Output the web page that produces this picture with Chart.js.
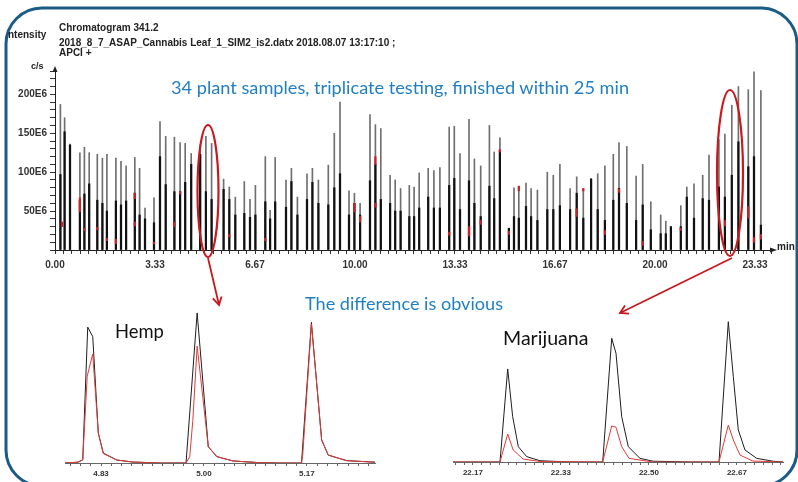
<!DOCTYPE html>
<html>
<head>
<meta charset="utf-8">
<script src="https://cdn.jsdelivr.net/npm/chart.js@4.4.1/dist/chart.umd.min.js"></script>
<style>
  html, body { margin: 0; padding: 0; background: #fff; }
  #page { position: relative; width: 798px; height: 482px; overflow: hidden; font-family: "Liberation Sans", Arial, sans-serif; }
  canvas { position: absolute; }
  .lbl { position: absolute; white-space: nowrap; line-height: 1; z-index: 2; }
  .hdr { font-weight: bold; font-size: 10px; color: #222; }
  .blue { color: #1f7fc4; font-family: Lato, "Noto Sans", sans-serif; }
  .big { font-family: Lato, "Noto Sans", sans-serif; color: #111; }
  svg { position: absolute; left: 0; top: 0; z-index: 1; }
</style>
</head>
<body>
<div id="page">
  <canvas id="overview" style="left:0;top:60px" width="798" height="220"></canvas>
  <canvas id="hemp" style="left:0;top:295px" width="400" height="187"></canvas>
  <canvas id="marijuana" style="left:400px;top:295px" width="398" height="187"></canvas>

  <div class="lbl hdr" style="left:8px;top:30px">ntensity</div>
  <div class="lbl hdr" style="left:59px;top:23px">Chromatogram 341.2</div>
  <div class="lbl hdr" style="left:59px;top:38px">2018_8_7_ASAP_Cannabis Leaf_1_SIM2_is2.datx 2018.08.07 13:17:10 ;</div>
  <div class="lbl hdr" style="left:59px;top:48px">APCI +</div>
  <div class="lbl hdr" style="left:31px;top:62px;font-size:9px">c/s</div>
  <div class="lbl hdr" style="left:777px;top:242px;font-size:10px">min</div>

  <div class="lbl blue fit" data-w="458" style="left:171px;top:78px;font-size:18px">34 plant samples, triplicate testing, finished within 25 min</div>
  <div class="lbl blue fit" data-w="198" style="left:305px;top:294px;font-size:16px">The difference is obvious</div>
  <div class="lbl big fit" data-w="49" style="left:115px;top:322px;font-size:18px">Hemp</div>
  <div class="lbl big fit" data-w="86" style="left:503px;top:328px;font-size:18px">Marijuana</div>

  <svg width="798" height="482">
    <rect x="6" y="8" width="791" height="478" rx="36" ry="36" fill="none" stroke="#1d5b87" stroke-width="3"/>
    <ellipse cx="208" cy="191" rx="10.5" ry="66" fill="none" stroke="#c8191e" stroke-width="2.2"/>
    <ellipse cx="730" cy="173" rx="13" ry="83" fill="none" stroke="#c8191e" stroke-width="2.2"/>
    <line x1="208" y1="258" x2="219" y2="305" stroke="#c8191e" stroke-width="1.8"/>
    <polyline points="212.8,298.4 219,305 221.6,296.4" fill="none" stroke="#c8191e" stroke-width="1.8"/>
    <line x1="732" y1="258" x2="620" y2="313" stroke="#c8191e" stroke-width="1.8"/>
    <polyline points="625,305.5 620,313 629,313.6" fill="none" stroke="#c8191e" stroke-width="1.8"/>
  </svg>
</div>
<script>
// overview chromatogram: retention time (min) and peak heights (E6 c/s)
const spikeTimes = [
    0.18, 0.32, 0.50, 0.83, 0.98, 1.14, 1.41, 1.58, 1.73, 2.03,
    2.20, 2.37, 2.66, 2.82, 3.00, 3.30, 3.50, 3.69, 3.98, 4.17,
    4.34, 4.54, 4.84, 5.03, 5.22, 5.62, 5.81, 6.01, 6.31, 6.50,
    6.68, 7.01, 7.17, 7.34, 7.70, 7.88, 8.08, 8.40, 8.58, 8.78,
    9.11, 9.31, 9.50, 9.80, 9.98, 10.17, 10.50, 10.68, 10.86, 11.17,
    11.34, 11.52, 11.81, 11.97, 12.14, 12.44, 12.63, 12.83, 13.14, 13.31,
    13.50, 13.80, 13.98, 14.19, 14.48, 14.64, 14.83, 15.13, 15.30, 15.46,
    15.70, 15.87, 16.08, 16.41, 16.61, 16.83, 17.17, 17.39, 17.61, 17.87,
    18.09, 18.33, 18.61, 18.80, 19.06, 19.37, 19.59, 19.86, 20.19, 20.36,
    20.53, 20.86, 21.06, 21.30, 21.59, 21.80, 22.13, 22.33, 22.56, 22.78,
    23.11, 23.30, 23.53
];
const grayPeaks = [
    187, 170, 136, 125, 132, 125, 123, 118, 123, 118,
    114, 108, 119, 105, 54, 67, 165, 146, 145, 138,
    137, 124, 135, 146, 137, 91, 81, 68, 88, 65,
    83, 120, 51, 119, 90, 105, 68, 98, 105, 90,
    109, 150, 190, 76, 73, 60, 174, 161, 156, 96,
    90, 79, 83, 81, 99, 105, 102, 106, 158, 159,
    124, 168, 117, 108, 160, 126, 144, 28, 80, 82,
    86, 79, 77, 100, 96, 110, 79, 94, 79, 92,
    98, 108, 123, 138, 133, 95, 110, 62, 45, 37,
    30, 57, 81, 85, 96, 122, 142, 149, 186, 210,
    206, 229, 205
];
const blackPeaks = [
    97, 152, 135, 64, 72, 85, 64, 60, 50, 63,
    58, 63, 73, 45, 40, 35, 120, 84, 75, 75,
    87, 110, 123, 75, 65, 78, 65, 45, 47, 42,
    45, 62, 40, 62, 55, 88, 45, 65, 87, 60,
    58, 80, 98, 45, 60, 45, 89, 110, 65, 60,
    50, 50, 43, 43, 54, 68, 54, 54, 83, 92,
    52, 89, 60, 43, 82, 66, 128, 28, 43, 41,
    56, 43, 38, 52, 52, 57, 52, 73, 41, 91,
    52, 38, 64, 79, 60, 38, 58, 26, 21, 21,
    30, 30, 68, 41, 66, 64, 81, 68, 96, 139,
    107, 120, 32
];
// red trace segments visible on the overview
const redTimes = [0.23, 0.83, 0.98, 1.41, 1.73, 2.03, 2.66, 2.66, 3.30, 3.98, 4.17, 5.81, 7.01, 9.98, 10.17, 10.68, 10.68,
    13.14, 13.80, 14.19, 14.83, 15.13, 15.46, 17.39, 17.61, 18.33, 18.80, 19.59, 20.86, 22.33, 23.11, 23.30, 23.53];
const redLow = [30, 49, 25, 26, 12, 8, 66, 31, 8, 30, 72, 17, 12, 49, 36, 110, 55,
    19, 18, 33, 126, 20, 76, 43, 76, 20, 74, 6, 25, 31, 41, 10, 14];
const redHigh = [36, 67, 28, 29, 15, 14, 73, 36, 10, 36, 75, 20, 15, 60, 43, 120, 60,
    23, 30, 38, 129, 24, 82, 53, 79, 25, 78, 11, 28, 38, 56, 16, 20];

const overviewTicks = [0, 3.3333, 6.6667, 10, 13.3333, 16.6667, 20, 23.3333];
const overviewYLabels = [50, 100, 150, 200];

// zoomed panels (relative intensity)
const hempBlackT = [4.775, 4.7956, 4.8037, 4.8118, 4.8199, 4.8289, 4.8370, 4.8587, 4.885, 4.93,
    4.971, 4.989, 5.007, 5.021, 5.047, 5.086, 5.12, 5.158, 5.174, 5.1906, 5.2013, 5.231, 5.277];
const hempBlack = [0, 0.5, 2, 86, 80, 19, 6.3, 1.9, 0.6, 0,
    0, 95, 10.3, 4, 1.3, 0.3, 0, 0, 89, 14.6, 5, 1.5, 0.5];
const hempRedT = [4.775, 4.7956, 4.8037, 4.8110, 4.8199, 4.8289, 4.8370, 4.8587, 4.885, 4.93,
    4.971, 4.977, 4.982, 4.989, 5.007, 5.021, 5.047, 5.086, 5.12, 5.158, 5.160, 5.174, 5.1906, 5.2013, 5.231, 5.277];
const hempRed = [0, 0.5, 2, 55, 69, 19, 6, 1.9, 0.6, 0,
    0, 4, 27, 74, 10.3, 4, 1.3, 0.3, 0, 0, 5, 88, 14.6, 5, 1.5, 0.5];
const hempTicks = [4.8333, 5.0, 5.1667];

const mjBlackT = [22.129, 22.218, 22.2326, 22.242, 22.2527, 22.2686, 22.2938, 22.35, 22.4125, 22.4296, 22.4377, 22.4485,
    22.461, 22.4832, 22.5078, 22.58, 22.6328, 22.6504, 22.6599, 22.6693, 22.682, 22.7042, 22.735, 22.754];
const mjBlack = [0, 0, 58.9, 28.7, 9.7, 3.4, 0.8, 0, 0, 78.3, 68.8, 28.7,
    9.7, 2.3, 0.5, 0, 0, 88.8, 54, 20.4, 7.6, 2.3, 0.5, 0];
const mjRedT = [22.129, 22.218, 22.2326, 22.243, 22.2616, 22.2938, 22.4125, 22.4296, 22.4377,
    22.4485, 22.4625, 22.5078, 22.6328, 22.6504, 22.6599, 22.6726, 22.697, 22.754];
const mjRed = [0, 0, 17.7, 7.6, 1.9, 0.3, 0, 22.8, 22, 9.7, 2.3, 0, 0, 23.4, 13.9, 4.4, 0.6, 0];
const mjTicks = [22.1667, 22.3333, 22.5, 22.6667];

// shrink/grow the annotation texts to their measured width
document.querySelectorAll('.fit').forEach(el => {
    const target = parseFloat(el.dataset.w);
    const size = parseFloat(el.style.fontSize);
    el.style.fontSize = (size * target / el.offsetWidth).toFixed(2) + 'px';
});

function tickBuilder(majors, step, min, max) {
    return scale => {
        const ticks = [];
        let start = majors[0];
        while (start - step >= min - 1e-9) start -= step;
        for (let v = start; v <= max + 1e-9; v += step) {
            if (majors.some(m => Math.abs(m - v) < step / 3)) continue;
            ticks.push({ value: v });
        }
        majors.forEach(m => ticks.push({ value: m, major: true }));
        ticks.sort((a, b) => a.value - b.value);
        scale.ticks = ticks;
    };
}

const axisArrows = {
    id: 'axisArrows',
    afterDraw(chart) {
        const { ctx, chartArea: a } = chart;
        ctx.save();
        ctx.fillStyle = '#222';
        ctx.strokeStyle = '#222';
        ctx.lineWidth = 1;
        ctx.beginPath();
        ctx.moveTo(a.left, a.top);
        ctx.lineTo(a.left, a.top - 3);
        ctx.stroke();
        ctx.beginPath();
        ctx.moveTo(a.left - 2.5, a.top + 1);
        ctx.lineTo(a.left, a.top - 5);
        ctx.lineTo(a.left + 2.5, a.top + 1);
        ctx.fill();
        ctx.beginPath();
        ctx.moveTo(a.right - 2, a.bottom - 2.5);
        ctx.lineTo(a.right + 5, a.bottom);
        ctx.lineTo(a.right - 2, a.bottom + 2.5);
        ctx.fill();
        ctx.restore();
    }
};

const tickFont = { family: '"Liberation Sans", Arial, sans-serif', size: 10, weight: 'bold' };

new Chart(document.getElementById('overview'), {
    type: 'bar',
    data: {
        datasets: [
            {
                data: redTimes.map((t, i) => ({ x: t, y: [redLow[i], redHigh[i]] })),
                backgroundColor: '#c92226',
                barThickness: 1.6,
                grouped: false,
                order: 1
            },
            {
                data: spikeTimes.map((t, i) => ({ x: t, y: blackPeaks[i] })),
                backgroundColor: '#111',
                barThickness: 1.6,
                grouped: false,
                order: 2
            },
            {
                data: spikeTimes.map((t, i) => ({ x: t, y: grayPeaks[i] })),
                backgroundColor: '#6f6f6f',
                barThickness: 1,
                grouped: false,
                order: 3
            }
        ]
    },
    options: {
        responsive: false,
        animation: false,
        layout: { padding: { top: 11, right: 26, left: 0, bottom: 0 } },
        plugins: { legend: { display: false }, tooltip: { enabled: false } },
        scales: {
            x: {
                type: 'linear',
                min: 0,
                max: 23.9,
                offset: false,
                afterBuildTicks: tickBuilder(overviewTicks, 10 / 36, 0, 23.9),
                afterFit: scale => { scale.height = 30; },
                grid: { display: true, drawOnChartArea: false, offset: false, tickLength: 4, color: '#333' },
                border: { color: '#222', width: 1 },
                ticks: {
                    autoSkip: false,
                    maxRotation: 0,
                    padding: 5,
                    color: '#333',
                    font: tickFont,
                    callback: (v, i, ticks) => ticks[i].major ? v.toFixed(2) : ''
                }
            },
            y: {
                min: 0,
                max: 230,
                afterFit: scale => { scale.width = 55; },
                grid: { display: true, drawOnChartArea: false, tickLength: 5, color: '#333' },
                border: { color: '#222', width: 1 },
                ticks: {
                    stepSize: 10,
                    autoSkip: false,
                    padding: 3,
                    color: '#333',
                    font: tickFont,
                    callback: v => overviewYLabels.includes(v) ? v + 'E6' : ''
                }
            }
        }
    },
    plugins: [axisArrows]
});

function detailChart(id, blackT, black, redT, red, majors, min, max, padding, axisHeight) {
    new Chart(document.getElementById(id), {
        type: 'line',
        data: {
            datasets: [
                {
                    data: redT.map((t, i) => ({ x: t, y: red[i] })),
                    borderColor: '#e23b36',
                    borderWidth: 1,
                    pointRadius: 0,
                    order: 1
                },
                {
                    data: blackT.map((t, i) => ({ x: t, y: black[i] })),
                    borderColor: '#1e1e1e',
                    borderWidth: 1,
                    pointRadius: 0,
                    order: 2
                }
            ]
        },
        options: {
            responsive: false,
            animation: false,
            layout: { padding: padding },
            plugins: { legend: { display: false }, tooltip: { enabled: false } },
            scales: {
                x: {
                    type: 'linear',
                    min: min,
                    max: max,
                    afterBuildTicks: tickBuilder(majors, 1 / 60, min, max),
                    afterFit: scale => { scale.height = axisHeight; },
                    grid: { display: true, drawOnChartArea: false, tickLength: 3, color: '#666' },
                    border: { color: '#666', width: 1 },
                    ticks: {
                        autoSkip: false,
                        maxRotation: 0,
                        padding: 3,
                        color: '#333',
                        font: { family: '"Liberation Sans", Arial, sans-serif', size: 8, weight: 'bold' },
                        callback: (v, i, ticks) => ticks[i].major ? v.toFixed(2) : ''
                    }
                },
                y: { display: false, min: 0, max: 100 }
            }
        }
    });
}

detailChart('hemp', hempBlackT, hempBlack, hempRedT, hempRed, hempTicks, 4.775, 5.277,
    { left: 65, right: 25, top: 10, bottom: 0 }, 19);
detailChart('marijuana', mjBlackT, mjBlack, mjRedT, mjRed, mjTicks, 22.129, 22.754,
    { left: 53, right: 15, top: 9, bottom: 0 }, 20);
</script>
</body>
</html>
